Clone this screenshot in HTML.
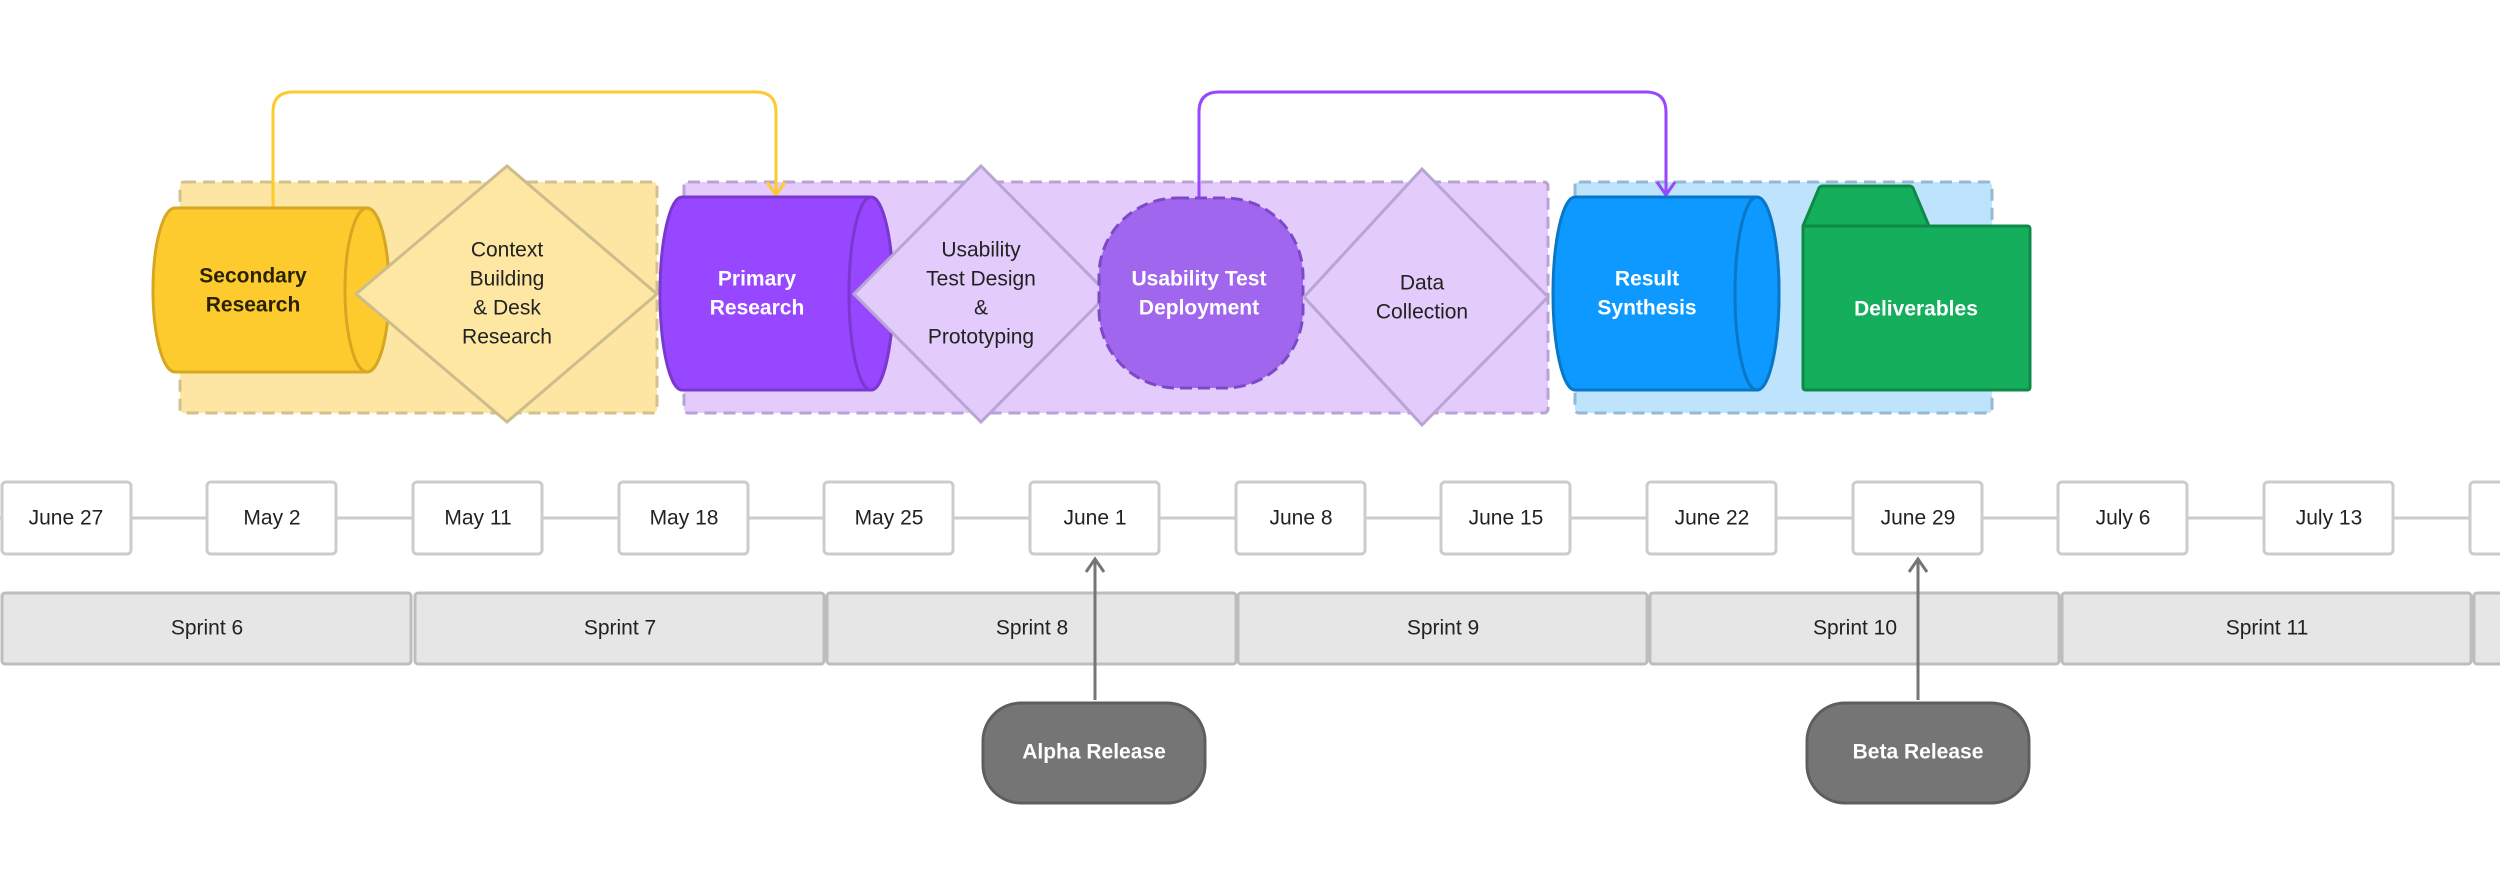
<!DOCTYPE html>
<html><head><meta charset="utf-8"><style>
html,body{margin:0;padding:0;background:#fff;}
svg{display:block;}
text{font-family:"Liberation Sans",sans-serif;font-size:21px;text-anchor:middle;dominant-baseline:middle;}
.b{font-weight:bold;}
</style></head><body>
<svg width="2500" height="896" viewBox="0 0 2500 896" xmlns="http://www.w3.org/2000/svg">
<rect x="180" y="182" width="477" height="231" rx="4" fill="#FDE6A3" stroke="#D3C08C" stroke-width="3" stroke-dasharray="12 7"/>
<rect x="684" y="182" width="864" height="231" rx="4" fill="#E3CCFB" stroke="#B9A3D4" stroke-width="3" stroke-dasharray="12 7"/>
<rect x="1575" y="182" width="417" height="231" rx="4" fill="#BEE3FC" stroke="#95B9D1" stroke-width="3" stroke-dasharray="12 7"/>

<path d="M273 208 V112 Q273 92 293 92 H756 Q776 92 776 112 V193" fill="none" stroke="#FDCB2E" stroke-width="3"/>
<path d="M767 182 L776 195 L785 182" fill="none" stroke="#FDCB2E" stroke-width="3"/>
<path d="M1199 198 V112 Q1199 92 1219 92 H1646 Q1666 92 1666 112 V193" fill="none" stroke="#9747FF" stroke-width="3"/>
<path d="M1657 182 L1666 195 L1675 182" fill="none" stroke="#9747FF" stroke-width="3"/>

<path d="M175 208 H367 A22 82 0 0 1 367 372 H175 A22 82 0 0 1 175 208 Z" fill="#FDCB2E" stroke="#D6A720" stroke-width="3"/>
<ellipse cx="367" cy="290" rx="22" ry="82" fill="#FDCB2E" stroke="#D6A720" stroke-width="3"/>
<text class="b" x="253" y="277" fill="#2A2200">Secondary</text>
<text class="b" x="253" y="306" fill="#2A2200">Research</text>

<polygon points="507,166 657,294 507,422 356,294" fill="#FDE7A3" stroke="#CDBD8D" stroke-width="3"/>
<text x="507" y="251" fill="#222">Context</text>
<text x="507" y="280" fill="#222">Building</text>
<text x="507" y="309" fill="#222">&amp; Desk</text>
<text x="507" y="338" fill="#222">Research</text>

<path d="M682 197 H871 A22 96.5 0 0 1 871 390 H682 A22 96.5 0 0 1 682 197 Z" fill="#9747FF" stroke="#7A38D0" stroke-width="3"/>
<ellipse cx="871" cy="293.5" rx="22" ry="96.5" fill="#9747FF" stroke="#7A38D0" stroke-width="3"/>
<text class="b" x="757" y="280" fill="#fff">Primary</text>
<text class="b" x="757" y="309" fill="#fff">Research</text>

<polygon points="981,166 1108,294 981,422 854,294" fill="#E3CCFB" stroke="#B8A5D3" stroke-width="3"/>
<text x="981" y="251" fill="#222">Usability</text>
<text x="981" y="280" fill="#222">Test Design</text>
<text x="981" y="309" fill="#222">&amp;</text>
<text x="981" y="338" fill="#222">Prototyping</text>

<rect x="1099" y="198" width="204" height="190" rx="78" fill="#A066EE" stroke="#7C4AC8" stroke-width="3" stroke-dasharray="12 6"/>
<text class="b" x="1199" y="280" fill="#fff">Usability Test</text>
<text class="b" x="1199" y="309" fill="#fff">Deployment</text>

<polygon points="1422,169 1548,297 1422,425 1304,297" fill="#E3CCFB" stroke="#B8A5D3" stroke-width="3"/>
<text x="1422" y="284" fill="#222">Data</text>
<text x="1422" y="313" fill="#222">Collection</text>

<path d="M1575 197 H1757 A22 96.5 0 0 1 1757 390 H1575 A22 96.5 0 0 1 1575 197 Z" fill="#0D99FF" stroke="#0A77C6" stroke-width="3"/>
<ellipse cx="1757" cy="293.5" rx="22" ry="96.5" fill="#0D99FF" stroke="#0A77C6" stroke-width="3"/>
<text class="b" x="1647" y="280" fill="#fff">Result</text>
<text class="b" x="1647" y="309" fill="#fff">Synthesis</text>

<path d="M1803 226 L1819 188 Q1820 186 1823 186 H1909 Q1912 186 1913 188 L1929 226 H2027 Q2030 226 2030 229 V387 Q2030 390 2027 390 H1806 Q1803 390 1803 387 Z" fill="#14AE5C" stroke="#0E8A47" stroke-width="3"/>
<line x1="1803" y1="226" x2="1929" y2="226" stroke="#0E8A47" stroke-width="3"/>
<text class="b" x="1916" y="310" fill="#fff">Deliverables</text>

<line x1="0" y1="518" x2="2500" y2="518" stroke="#CCCCCC" stroke-width="3"/>
<g fill="#fff" stroke="#CCCCCC" stroke-width="3">
<rect x="2" y="482" width="129" height="72" rx="4"/>
<rect x="207" y="482" width="129" height="72" rx="4"/>
<rect x="413" y="482" width="129" height="72" rx="4"/>
<rect x="619" y="482" width="129" height="72" rx="4"/>
<rect x="824" y="482" width="129" height="72" rx="4"/>
<rect x="1030" y="482" width="129" height="72" rx="4"/>
<rect x="1236" y="482" width="129" height="72" rx="4"/>
<rect x="1441" y="482" width="129" height="72" rx="4"/>
<rect x="1647" y="482" width="129" height="72" rx="4"/>
<rect x="1853" y="482" width="129" height="72" rx="4"/>
<rect x="2058" y="482" width="129" height="72" rx="4"/>
<rect x="2264" y="482" width="129" height="72" rx="4"/>
<rect x="2470" y="482" width="129" height="72" rx="4"/>
</g>
<g fill="#222">
<text x="66" y="519">June 27</text>
<text x="272" y="519">May 2</text>
<text x="478" y="519">May 11</text>
<text x="684" y="519">May 18</text>
<text x="889" y="519">May 25</text>
<text x="1095" y="519">June 1</text>
<text x="1301" y="519">June 8</text>
<text x="1506" y="519">June 15</text>
<text x="1712" y="519">June 22</text>
<text x="1918" y="519">June 29</text>
<text x="2123" y="519">July 6</text>
<text x="2329" y="519">July 13</text>
</g>

<g fill="#E6E6E6" stroke="#BDBDBD" stroke-width="3">
<rect x="2" y="593" width="409" height="71" rx="3"/>
<rect x="415" y="593" width="409" height="71" rx="3"/>
<rect x="827" y="593" width="409" height="71" rx="3"/>
<rect x="1238" y="593" width="409" height="71" rx="3"/>
<rect x="1650" y="593" width="409" height="71" rx="3"/>
<rect x="2062" y="593" width="409" height="71" rx="3"/>
<rect x="2474" y="593" width="409" height="71" rx="3"/>
</g>
<g fill="#222">
<text x="207" y="629">Sprint 6</text>
<text x="620" y="629">Sprint 7</text>
<text x="1032" y="629">Sprint 8</text>
<text x="1443" y="629">Sprint 9</text>
<text x="1855" y="629">Sprint 10</text>
<text x="2267" y="629">Sprint 11</text>
</g>

<line x1="1095" y1="700" x2="1095" y2="559" stroke="#757575" stroke-width="3"/>
<path d="M1086 572 L1095 559 L1104 572" fill="none" stroke="#757575" stroke-width="3"/>
<line x1="1918" y1="700" x2="1918" y2="559" stroke="#757575" stroke-width="3"/>
<path d="M1909 572 L1918 559 L1927 572" fill="none" stroke="#757575" stroke-width="3"/>
<rect x="983" y="703" width="222" height="100" rx="38" fill="#757575" stroke="#5E5E5E" stroke-width="3"/>
<text class="b" x="1094" y="753" fill="#fff">Alpha Release</text>
<rect x="1807" y="703" width="222" height="100" rx="38" fill="#757575" stroke="#5E5E5E" stroke-width="3"/>
<text class="b" x="1918" y="753" fill="#fff">Beta Release</text>
</svg>
</body></html>
